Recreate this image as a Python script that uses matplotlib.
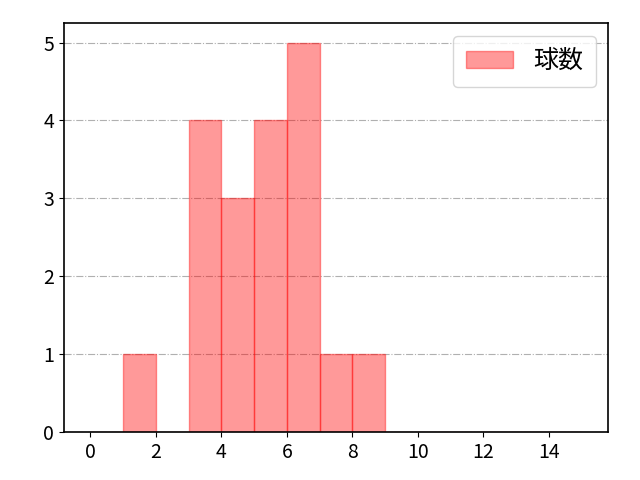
import numpy as np
import matplotlib
matplotlib.use('Agg')
import matplotlib.pyplot as plt

plt.rcParams['font.family'] = ['Noto Sans CJK JP', 'DejaVu Sans']

# pitch counts per outing
values = [1, 3, 3, 3, 3, 4, 4, 4, 5, 5, 5, 5, 6, 6, 6, 6, 6, 7, 8]
bins = np.arange(0, 16, 1)
label = '球数'

fig, ax = plt.subplots(figsize=(6.4, 4.8), dpi=100)
fig.subplots_adjust(left=0.1, right=0.95, top=0.952, bottom=0.1)
ax.hist(values, bins=bins, color='red', alpha=0.4, edgecolor='red', linewidth=1, label=label)
ax.set_xlim(-0.8, 15.8)
ax.set_xticks(np.arange(0, 16, 2))
ax.grid(axis='y', linestyle='-.', color='#b0b0b0')
ax.set_axisbelow(True)
for s in ax.spines.values():
    s.set_linewidth(1.2)
ax.legend(loc='upper right', fontsize=18, handlelength=1.9, borderpad=0.5)
ax.tick_params(labelsize=14)
fig.savefig('out.png')
